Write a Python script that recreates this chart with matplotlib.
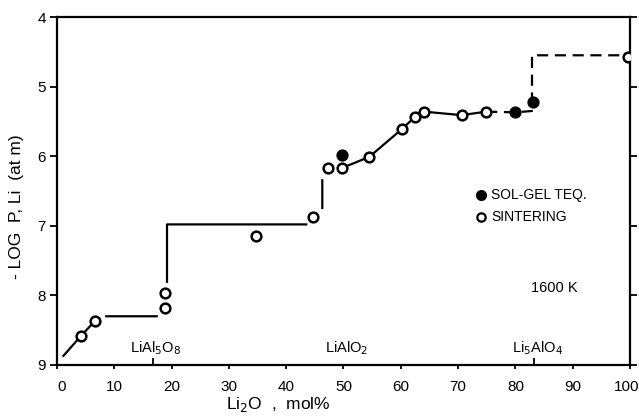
import matplotlib
matplotlib.use('Agg')
import matplotlib.pyplot as plt
import matplotlib.transforms as mtransforms
import numpy as np

plt.rcParams['font.family'] = ['Liberation Sans', 'DejaVu Sans']

# sintering points (open circles)
sint_x = [4.2, 6.6, 18.8, 18.8, 34.7, 44.6, 47.3, 49.7, 54.5, 60.2, 62.4, 64.1, 70.6, 74.9, 99.7]
sint_y = [8.58, 8.37, 8.18, 7.97, 7.15, 6.87, 6.17, 6.17, 6.01, 5.61, 5.44, 5.36, 5.41, 5.36, 4.57]

# sol-gel points (filled)
sol_x = [49.7, 80.0, 83.0]
sol_y = [5.98, 5.37, 5.22]

# phase boundary path, solid part (nan = gap)
solid_x = [1.0, 4.2, 6.6, np.nan, 8.4, 17.6, np.nan, 19.2, 19.2, 43.7, np.nan, 46.3, 46.3, np.nan,
           49.7, 54.5, 60.2, 62.4, 64.1, 70.6, 74.9]
solid_y = [8.88, 8.58, 8.37, np.nan, 8.3, 8.3, np.nan, 7.82, 6.98, 6.98, np.nan, 6.76, 6.33, np.nan,
           6.17, 6.01, 5.61, 5.44, 5.36, 5.41, 5.36]

# dashed part
dash_x = [74.9, 80.0, 82.9, 82.9, 99.7]
dash_y = [5.36, 5.37, 5.35, 4.55, 4.55]

phases = ['LiAl$_5$O$_8$', 'LiAlO$_2$', 'Li$_5$AlO$_4$']
phase_x = [16.7, 50.0, 83.3]

fig = plt.figure(figsize=(6.39, 4.19), dpi=100)
ax = fig.add_axes([0.0892, 0.1289, 0.8967, 0.8305])

ax.plot(solid_x, solid_y, color='black', lw=1.6, solid_capstyle='butt')
ax.plot(dash_x, dash_y, color='black', lw=1.6, dashes=(5, 3))
ax.plot(sint_x, sint_y, 'o', ms=7, mfc='white', mec='black', mew=1.8, zorder=3)
ax.plot(sol_x, sol_y, 'o', ms=7.8, mfc='black', mec='black', zorder=3)

ax.set_xlim(0, 100)
ax.set_ylim(9, 4)
ax.set_xticks(range(0, 101, 10))
ax.set_yticks(range(4, 10))
ax.set_xticks(phase_x, minor=True)
ax.tick_params(axis='both', labelsize=11, width=1.3, direction='out')
ax.tick_params(axis='y', right=True, length=5, pad=3)
ax.tick_params(axis='x', length=3, pad=8)
ax.tick_params(axis='x', which='minor', direction='in', length=5, width=1.3)
for s in ax.spines.values():
    s.set_linewidth(1.6)

# nudge end labels like the original
xl = ax.get_xticklabels()
xl[0].set_transform(xl[0].get_transform() + mtransforms.ScaledTranslation(5 / 100, 0, fig.dpi_scale_trans))
xl[-1].set_transform(xl[-1].get_transform() + mtransforms.ScaledTranslation(-3 / 100, 0, fig.dpi_scale_trans))

for lab, px in zip(phases, phase_x):
    ax.text(px + 0.5, 8.88, lab, fontsize=10.5, ha='center', va='bottom')

ax.plot([74.0], [6.56], 'o', ms=7, mfc='black', mec='black')
ax.text(75.8, 6.56, 'SOL-GEL TEQ.', fontsize=10, va='center')
ax.plot([74.0], [6.87], 'o', ms=6, mfc='white', mec='black', mew=1.6)
ax.text(75.8, 6.87, 'SINTERING', fontsize=10, va='center')
ax.text(86.8, 7.9, '1600 K', fontsize=10.5, ha='center', va='center')

fig.text(17 / 639, 1 - 207 / 419, '- LOG  P, Li  (at m)', fontsize=12.5, rotation=90,
         ha='center', va='center')
fig.text(278 / 639, 1 - 404 / 419, 'Li$_2$O  ,  mol%', fontsize=12.5, ha='center', va='center')

fig.savefig('out.png', dpi=100)
